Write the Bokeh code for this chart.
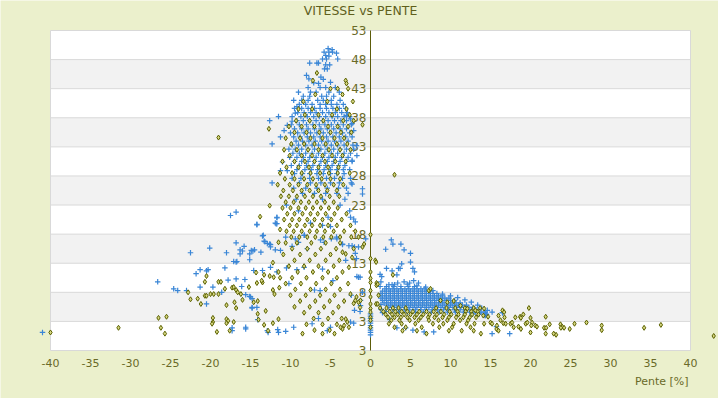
from bokeh.plotting import figure
from bokeh.models import Range1d
from bokeh.core.properties import value
from bokeh.embed import file_html
from bokeh.resources import INLINE

# ---------------- data ----------------
x_ticks = [-40, -35, -30, -25, -20, -15, -10, -5, 0, 5, 10, 15, 20, 25, 30, 35, 40]
y_ticks = [-2, 3, 8, 13, 18, 23, 28, 33, 38, 43, 48, 53]
y_tick_labels = ["3", "3", "8", "13", "18", "23", "28", "33", "38", "43", "48", "53"]

title_text = "VITESSE vs PENTE"
x_title = "Pente [%]"

def rows(spec):
    out = []
    for y, xs in spec:
        for x in xs:
            out.append((x, y))
    return out

# blue series (+)
blue_peak_top = [(-5.3, 49.9), (-4.8, 49.7), (-5.8, 49.3), (-5.2, 49.3), (-4.75, 49.3), (-5.6, 48.7),
                 (-5.2, 48.6), (-4.25, 49.1), (-6.0, 48.1), (-5.5, 48.1), (-4.1, 48.1), (-7.6, 47.4),
                 (-6.7, 47.4), (-6.5, 47.4), (-5.6, 47.1), (-5.1, 47.1), (-5.75, 46.4), (-5.4, 46.4),
                 (-8.0, 45.3), (-7.7, 44.7), (-6.2, 45.0), (-5.9, 44.6), (-7.1, 44.0), (-6.5, 43.9),
                 (-5.0, 44.1)]
blue_peak_rows = [
    (43.2, [-7.8, -6.3, -5.6, -4.4]),
    (42.4, [-9.0, -7.5, -6.8, -5.2, -3.9]),
    (41.7, [-8.4, -7.6, -6.1, -5.5, -4.6]),
    (41.0, [-9.6, -8.6, -7.8, -6.6, -5.9, -4.9, -3.8]),
    (40.3, [-8.9, -8.1, -7.3, -6.3, -5.6, -4.9, -4.2, -3.4]),
    (39.6, [-9.5, -8.6, -7.8, -7.0, -6.3, -5.5, -4.7, -3.9, -3.1]),
    (38.9, [-9.1, -8.3, -7.5, -6.8, -6.0, -5.2, -4.4, -3.6, -2.9]),
    (38.2, [-11.5, -9.8, -8.7, -7.9, -7.1, -6.4, -5.6, -4.8, -4.1, -3.3, -2.6]),
    (37.5, [-9.2, -8.4, -7.6, -6.8, -6.0, -5.3, -4.5, -3.7, -3.0]),
    (36.8, [-9.9, -8.9, -8.0, -7.2, -6.4, -5.7, -4.9, -4.1, -3.4, -2.4]),
    (36.1, [-9.5, -8.6, -7.8, -7.0, -6.2, -5.4, -4.6, -3.8, -3.0]),
    (35.4, [-10.0, -9.1, -8.3, -7.5, -6.7, -5.9, -5.1, -4.3, -3.5, -2.6]),
    (34.7, [-9.6, -8.8, -7.9, -7.1, -6.3, -5.5, -4.7, -3.9, -3.1, -2.3]),
    (34.0, [-9.3, -8.5, -7.7, -6.9, -6.1, -5.3, -4.5, -3.7, -2.8]),
    (33.3, [-9.8, -9.0, -8.1, -7.3, -6.5, -5.7, -4.9, -4.1, -3.3, -2.2]),
    (32.6, [-10.2, -9.4, -8.6, -7.8, -7.0, -6.2, -5.4, -4.6, -3.8, -3.0, -2.1]),
    (31.9, [-9.7, -8.9, -8.1, -7.3, -6.5, -5.7, -4.9, -4.1, -3.3, -2.5]),
    (31.2, [-10.1, -9.2, -8.4, -7.6, -6.8, -6.0, -5.2, -4.4, -3.6, -2.8]),
    (30.5, [-9.5, -8.6, -7.8, -7.0, -6.2, -5.4, -4.6, -3.8, -3.0, -2.3]),
    (29.8, [-9.9, -8.9, -8.0, -7.2, -6.4, -5.6, -4.8, -4.0, -3.2]),
    (29.1, [-9.2, -8.2, -7.4, -6.6, -5.8, -5.0, -4.2, -3.4, -2.6]),
    (28.4, [-9.5, -8.5, -7.6, -6.7, -5.9, -5.0, -4.2, -3.3]),
    (27.6, [-9.8, -8.7, -7.6, -6.5, -5.5, -4.5, -3.5, -2.5]),
    (26.8, [-8.9, -7.5, -6.2, -5.0, -3.9, -2.4]),
    (25.9, [-9.6, -8.1, -6.7, -5.4, -4.0, -3.0]),
    (25.0, [-8.5, -7.0, -5.6, -4.2, -2.8]),
    (24.0, [-9.3, -6.0, -3.2]),
    (23.0, [-10.5, -3.8]),
    (22.0, [-9.0, -2.6]),
]
blue_peak_edge = [(-12.3, 33.5), (-11.25, 34.7), (-10.4, 36.7), (-9.8, 37.4), (-9.4, 38.8), (-9.2, 39.9),
                  (-10.8, 35.8), (-11.0, 30.4), (-10.4, 28.9), (-11.25, 28.9), (-12.6, 37.5),
                  (-3.0, 38.4), (-2.5, 37.8), (-2.3, 37.0), (-2.1, 35.8), (-1.75, 33.2), (-1.7, 31.5),
                  (-2.3, 30.7), (-2.3, 26.6), (-1.0, 25.8), (-1.0, 24.9), (-2.5, 20.9), (-2.1, 20.6),
                  (-1.9, 20.1), (-12.3, 26.8), (-11.7, 20.9), (-11.7, 19.8)]
blue_low = [(-10.6, 17.5), (-9.4, 17.2), (-8.3, 17.8), (-7.9, 15.5), (-6.25, 17.0), (-5.8, 16.6),
            (-4.2, 17.2), (-3.5, 16.3), (-2.7, 16.0), (-1.5, 15.8), (-0.6, 17.2),
            (-11.9, 15.3), (-11.25, 15.2), (-9.8, 15.9), (-9.0, 16.6), (-8.25, 17.8), (-7.5, 19.9),
            (-6.0, 19.5), (-5.3, 20.9), (-5.0, 19.3), (-4.9, 17.2), (-4.25, 17.5), (-3.5, 16.2),
            (-2.3, 16.0), (-2.0, 15.8), (-1.75, 13.8), (-1.5, 10.6), (-1.0, 8.0), (-1.25, 5.7),
            (-2.4, 7.5), (-4.7, 10.0), (-6.3, 8.3), (-6.0, 12.0), (-7.0, 8.4), (-8.3, 12.3),
            (-9.2, 11.9), (-10.5, 12.2), (-10.2, 9.5), (-11.7, 11.5), (-12.5, 12.3), (-13.5, 11.75),
            (-14.6, 11.75), (-15.1, 13.6), (-16.3, 15.3), (-15.8, 15.9), (-14.9, 15.2), (-16.7, 13.3),
            (-17.1, 13.3), (-15.6, 7.6), (-14.8, 5.4), (-14.2, 5.4), (-17.3, 1.4), (-15.6, 1.7),
            (-12.9, 1.4), (-11.5, 1.1), (-10.6, 1.3), (-9.6, 2.0), (-7.3, 2.6), (-6.5, 3.5),
            (-5.4, 1.4), (-5.0, 2.0), (-2.5, 2.9), (-1.9, 14.7), (-3.1, 13.5), (-1.7, 10.7),
            (-1.3, 10.6), (-1.25, 6.6), (-2.0, 4.9), (-1.3, 4.7), (-2.1, 2.7)]
blue_left = [(-17.5, 21.2), (-16.8, 21.8), (-14.2, 19.6), (-11.8, 19.8), (-11.7, 20.8), (-13.5, 17.7),
             (-13.2, 16.7), (-12.6, 16.3), (-12.5, 15.8), (-16.8, 16.5), (-22.5, 14.8), (-20.1, 15.6),
             (-18.0, 14.8), (-16.3, 14.6), (-16.0, 15.1), (-15.1, 14.6), (-14.7, 15.1), (-14.5, 15.3),
             (-13.7, 14.9), (-16.8, 13.2), (-18.2, 12.2), (-21.8, 11.2), (-21.3, 11.9), (-20.5, 11.7),
             (-20.3, 11.9), (-26.6, 9.8), (-24.6, 8.6), (-24.1, 8.3), (-23.0, 8.3), (-21.3, 8.9),
             (-19.7, 8.9), (-17.8, 10.1), (-16.8, 10.3), (-16.1, 9.0), (-15.7, 10.2), (-15.1, 7.3),
             (-14.8, 6.9), (-15.0, 7.2), (-18.6, 8.0), (-20.5, 6.0), (-14.8, 5.3), (-14.1, 3.3),
             (-12.8, 1.1), (-11.6, 1.6), (-15.6, 2.0), (-17.3, 1.9), (-14.2, 19.7), (-11.9, 19.9),
             (-13.4, 17.8), (-12.5, 16.2), (-12.9, 16.4), (-13.3, 16.8), (-41.0, 1.1)]
blue_zero = [(0.0, 0.7), (0.0, 1.1), (0.0, 1.5), (0.0, 1.9), (0.0, 2.3), (0.0, 2.7), (0.0, 3.1),
             (0.0, 3.5), (0.0, 3.9), (0.0, 4.3)]
blue_blob_rows = [
    (9.0, [2.0, 2.9, 3.8, 4.7, 5.5]),
    (8.6, [1.8, 2.3, 2.8, 3.3, 3.8, 4.3, 4.8, 5.3, 5.8, 6.3, 6.8]),
    (8.2, [1.5, 2.0, 2.5, 3.0, 3.5, 4.0, 4.5, 5.0, 5.5, 6.0, 6.5, 7.0, 7.5]),
    (7.8, [1.3, 1.8, 2.3, 2.8, 3.3, 3.8, 4.3, 4.8, 5.3, 5.8, 6.3, 6.8, 7.3, 7.8, 8.3]),
    (7.4, [1.5, 2.0, 2.5, 3.0, 3.5, 4.0, 4.5, 5.0, 5.5, 6.0, 6.5, 7.0, 7.5, 8.0, 8.5, 9.0]),
    (7.0, [1.3, 1.8, 2.3, 2.8, 3.3, 3.8, 4.3, 4.8, 5.3, 5.8, 6.3, 6.8, 7.3, 7.8, 8.3, 8.8, 9.3, 9.8]),
    (6.6, [1.5, 2.0, 2.5, 3.0, 3.5, 4.0, 4.5, 5.0, 5.5, 6.0, 6.5, 7.0, 7.5, 8.0, 8.5, 9.0, 9.5, 10.0, 10.5]),
    (6.2, [1.7, 2.2, 2.7, 3.2, 3.7, 4.2, 4.7, 5.2, 5.7, 6.2, 6.7, 7.2, 7.7, 8.2, 8.7, 9.2, 9.7, 10.2, 10.7, 11.2]),
    (5.8, [2.0, 2.5, 3.0, 3.5, 4.0, 4.5, 5.0, 5.5, 6.0, 6.5, 7.0, 7.5, 8.0, 8.5, 9.0, 9.5, 10.0, 10.5, 11.0,
           11.5, 12.0]),
    (5.4, [2.3, 2.8, 3.3, 3.8, 4.3, 4.8, 5.3, 5.8, 6.3, 6.8, 7.3, 7.8, 8.3, 8.8, 9.3, 9.8, 10.3, 10.8, 11.3,
           11.8, 12.3, 12.8]),
    (5.0, [2.8, 3.5, 4.2, 4.9, 5.6, 6.3, 7.0, 7.7, 8.4, 9.1, 9.8, 10.5, 11.2, 11.9, 12.6, 13.3]),
    (4.6, [3.6, 4.6, 5.6, 6.6, 7.6, 8.6, 9.6, 10.6, 11.6, 12.4, 13.1, 13.8]),
    (4.3, [12.8, 13.6, 14.4]),
]
blue_right_extra = [(2.3, 9.3), (3.4, 9.6), (4.6, 9.4), (5.8, 9.1), (1.2, 9.0), (6.9, 8.9), (7.8, 8.3),
                    (9.0, 7.7), (10.0, 7.4), (10.9, 7.1), (11.8, 6.7), (12.6, 6.3), (13.4, 5.8), (13.9, 5.3),
                    (14.6, 4.9), (15.2, 4.6), (16.5, 4.5), (14.3, 4.0), (15.75, 2.1), (15.2, 0.9), (17.4, 0.9),
                    (2.6, 17.0), (2.8, 16.3), (3.8, 16.3), (1.9, 15.4), (4.2, 15.3), (5.0, 14.7), (5.0, 13.2),
                    (3.9, 12.9), (2.0, 12.1), (5.3, 12.1), (2.7, 11.7), (5.5, 11.5), (3.3, 11.0), (3.5, 12.1),
                    (3.7, 12.1), (1.3, 9.8), (6.0, 9.6), (5.4, 10.0), (2.7, 9.3), (3.0, 9.3), (4.9, 9.6),
                    (4.2, 9.8), (1.2, 11.1), (1.4, 10.7), (3.3, 1.9), (4.4, 1.9), (5.3, 1.5), (6.7, 1.2),
                    (7.9, 1.2), (2.4, 3.3), (1.9, 4.7), (1.5, 4.5), (1.3, 5.9), (1.3, 5.1), (14.2, 4.6),
                    (14.4, 4.0), (14.5, 4.2), (16.5, 4.5)]

# olive series (diamonds)
olive_peak_rows = [
    (45.7, [-6.7]),
    (44.4, [-7.2, -3.1]),
    (43.9, [-3.0]),
    (43.0, [-5.0, -4.1, -2.8]),
    (42.0, [-6.9, -3.5]),
    (40.8, [-8.4, -5.4, -2.2]),
    (39.5, [-9.0, -7.3, -4.2, -3.0]),
    (38.5, [-8.2, -6.5, -4.8, -2.6]),
    (37.5, [-9.3, -7.6, -5.9, -3.4, -2.1]),
    (36.5, [-10.2, -8.6, -7.0, -5.3, -4.1, -2.8]),
    (35.5, [-9.5, -8.0, -6.4, -5.0, -3.7, -2.4]),
    (34.5, [-10.6, -8.8, -7.5, -6.0, -4.5, -3.3]),
    (33.5, [-9.9, -8.3, -7.0, -5.6, -4.2, -2.9]),
    (32.5, [-10.8, -9.2, -7.8, -6.5, -5.2, -3.8, -2.5]),
    (31.5, [-10.1, -8.6, -7.3, -6.0, -4.8, -3.5]),
    (30.5, [-11.0, -9.5, -8.2, -7.0, -5.7, -4.4, -3.1]),
    (29.5, [-10.5, -9.0, -7.7, -6.5, -5.3, -4.0]),
    (28.5, [-11.3, -9.8, -8.6, -7.5, -6.3, -5.2, -4.1, -2.6]),
    (27.5, [-10.7, -9.5, -8.3, -7.2, -6.1, -5.0, -3.8]),
    (26.5, [-11.6, -10.1, -9.0, -7.9, -6.8, -5.7, -4.6, -3.4]),
    (25.5, [-10.9, -9.7, -8.6, -7.6, -6.5, -5.4, -4.2]),
    (24.5, [-11.2, -10.2, -9.2, -8.2, -7.2, -6.2, -5.1, -3.9]),
    (23.5, [-10.6, -9.6, -8.7, -7.7, -6.7, -5.7, -4.6]),
    (22.5, [-11.0, -10.0, -9.0, -8.1, -7.2, -6.2, -5.2, -4.1]),
    (21.5, [-10.4, -9.5, -8.5, -7.5, -6.6, -5.6, -4.5, -3.0]),
    (20.5, [-10.8, -9.8, -8.9, -7.9, -7.0, -6.0, -4.9, -3.6]),
    (19.5, [-10.1, -9.2, -8.2, -7.3, -6.3, -5.3, -4.2, -2.5]),
    (18.5, [-10.5, -9.6, -8.6, -7.6, -6.7, -5.7, -4.6, -3.3, -1.9]),
    (17.5, [-9.9, -8.9, -7.9, -6.9, -5.9, -4.9, -3.8, -2.4]),
    (16.5, [-10.6, -9.2, -7.4, -5.6, -3.8]),
    (15.5, [-9.8, -7.9, -6.2, -4.3]),
    (14.5, [-10.9, -8.8, -6.9, -5.0]),
    (13.5, [-9.5, -7.6, -5.6, -3.9]),
    (12.5, [-10.2, -8.3, -6.5, -4.6]),
    (11.5, [-11.5, -9.1, -7.2, -5.3, -3.5]),
    (10.5, [-9.8, -8.0, -6.0, -4.2]),
    (9.5, [-10.6, -8.7, -6.8, -4.9]),
    (8.5, [-9.4, -7.5, -5.6, -3.8]),
    (7.5, [-10.0, -8.1, -6.3, -4.5]),
    (6.5, [-8.8, -6.9, -5.1, -3.3]),
    (5.5, [-9.5, -7.6, -5.8, -4.0]),
    (4.5, [-8.3, -6.5, -4.7]),
    (3.5, [-7.1, -5.3, -3.6]),
    (2.5, [-8.0, -6.0, -4.2]),
    (1.5, [-7.0, -5.1]),
    (0.9, [-8.5, -6.0, -4.5]),
]
olive_near_axis = [(-1.0, 36.8), (-1.5, 17.5), (-2.1, 15.5), (-1.0, 15.8), (-2.3, 14.0),
                   (-3.5, 14.9), (-3.1, 14.6), (-2.7, 12.3), (-2.8, 9.5), (-2.5, 7.7), (-1.9, 6.6),
                   (-2.1, 6.1), (-1.5, 6.3), (-1.25, 6.6), (-1.75, 7.2), (-1.3, 5.4), (-3.1, 3.4),
                   (-2.9, 2.9), (-3.3, 2.3), (-3.5, 1.7), (-2.7, 2.0), (-3.75, 2.0), (-0.8, 16.3),
                   (3.0, 28.2), (-19.0, 34.6), (-12.7, 36.1)]
olive_left = [(-31.5, 1.9), (-26.5, 3.6), (-25.5, 3.8), (-26.2, 1.9), (-25.7, 0.9), (-22.8, 8.0),
              (-22.5, 6.8), (-21.6, 6.9), (-21.2, 6.0), (-20.7, 7.4), (-20.5, 7.4), (-20.0, 7.7),
              (-19.6, 7.7), (-19.0, 7.7), (-20.7, 9.8), (-20.5, 10.8), (-19.0, 9.8), (-18.7, 9.8),
              (-19.7, 3.6), (-19.7, 2.9), (-19.8, 2.6), (-19.2, 1.2), (-18.0, 3.4), (-17.8, 3.1),
              (-18.0, 2.7), (-17.1, 2.9), (-17.6, 1.4), (-16.8, 5.3), (-18.2, 8.6), (-18.0, 5.8),
              (-17.3, 8.8), (-17.1, 8.9), (-16.8, 8.4), (-16.6, 8.0), (-17.0, 6.3), (-16.2, 7.7),
              (-16.0, 6.7), (-15.2, 8.9), (-14.6, 6.3), (-14.1, 6.5), (-14.2, 9.6), (-13.5, 9.7),
              (-13.1, 4.8), (-14.1, 4.3), (-14.0, 3.3), (-13.3, 2.4), (-12.8, 1.4), (-12.2, 2.7),
              (-11.5, 3.4), (-12.0, 7.7), (-12.2, 8.4), (-11.4, 8.8), (-11.3, 10.5), (-12.1, 10.6),
              (-12.6, 10.8), (-13.3, 11.0), (-12.6, 22.9), (-13.8, 21.0), (-11.3, 18.8), (-11.5, 16.6),
              (-12.2, 13.1), (-14.3, 11.4), (-13.6, 10.0), (-40.0, 1.1)]
olive_zero = [(0.0, 17.9), (0.0, 13.8), (0.0, 11.5), (0.0, 10.4), (0.0, 9.7), (0.0, 8.3), (0.0, 7.2),
              (0.0, 6.0), (0.0, 5.2), (0.0, 4.6), (0.0, 3.7), (0.0, 3.2), (0.0, 2.0),
              (0.6, 13.5), (0.75, 9.6), (0.7, 6.0), (1.0, 7.5), (0.9, 6.0), (0.75, 9.2), (0.9, 9.4),
              (2.8, 11.0), (0.7, 13.2)]
olive_right_rows = [
    (5.3, [1.2, 2.0, 2.8, 3.5, 4.4, 8.2, 9.5, 10.6, 11.8, 12.9, 13.7]),
    (4.7, [1.6, 2.4, 3.1, 3.9, 4.6, 5.3, 6.1, 7.0, 7.9, 8.8, 9.9, 10.9, 11.9, 12.6, 13.4]),
    (4.2, [1.9, 2.7, 3.4, 4.2, 5.0, 5.8, 6.6, 7.4, 8.3, 9.2, 10.1, 11.0, 11.8, 12.7, 13.5]),
    (3.7, [2.2, 3.0, 3.8, 4.6, 5.5, 6.3, 7.2, 8.0, 9.0, 9.8, 10.7, 11.6, 12.4, 13.2]),
    (3.2, [2.6, 3.6, 4.9, 6.0, 7.3, 8.5, 9.6, 11.2, 12.2]),
    (2.6, [2.3, 3.9, 5.6, 7.8, 9.1, 10.4, 12.0, 13.0]),
    (2.0, [3.0, 4.4, 6.4, 8.6, 10.2, 12.5]),
    (1.4, [4.0, 5.8, 9.8, 11.4, 12.9]),
    (0.9, [7.0, 13.8]),
]
olive_right_extra = [(7.3, 8.3), (8.75, 6.6), (9.6, 6.3), (10.4, 6.5), (11.25, 5.7), (12.1, 5.2),
                     (13.1, 4.9), (7.5, 8.6),
                     (14.2, 5.2), (14.1, 4.0), (14.7, 3.8), (14.2, 2.6), (15.0, 2.8), (15.2, 2.6),
                     (15.75, 1.7), (15.8, 2.3), (16.0, 4.0), (16.5, 4.9), (16.7, 4.6), (16.75, 3.7),
                     (16.25, 3.2), (16.6, 2.7), (16.9, 2.6), (17.5, 2.6), (17.7, 2.8), (17.9, 2.0),
                     (18.1, 3.7), (18.7, 3.8), (18.8, 3.6), (19.1, 4.2), (18.5, 2.1), (18.8, 1.7),
                     (19.4, 2.6), (19.6, 2.8), (20.0, 3.6), (20.2, 2.8), (20.1, 2.3), (19.8, 5.3),
                     (20.6, 2.3), (20.8, 2.1), (20.0, 1.1), (21.9, 3.8), (22.4, 2.5), (21.7, 1.9),
                     (21.96, 1.9), (21.9, 0.9), (23.2, 0.7), (23.75, 2.5), (23.96, 2.1), (24.2, 1.9),
                     (23.8, 1.9), (24.9, 1.7), (25.5, 2.6), (27.0, 2.8), (28.9, 2.3), (28.9, 1.5),
                     (34.2, 1.9), (36.3, 2.4), (42.9, 0.5), (16.0, 1.4), (22.9, 0.9)]

blue_pts = (blue_peak_top + rows(blue_peak_rows) + blue_peak_edge + blue_low + blue_left
            + blue_zero + rows(blue_blob_rows) + blue_right_extra)
olive_pts = (rows(olive_peak_rows) + olive_near_axis + olive_left + olive_zero
             + rows(olive_right_rows) + olive_right_extra)

# ---------------- styling ----------------
BG = "#ebf0cc"
TXT = "#6a6a28"
GRID = "#d9d9d9"
BAND = "#f2f2f2"
FONT = "DejaVu Sans"

x_lo, x_hi = x_ticks[0], x_ticks[-1]
y_lo, y_hi = y_ticks[0], y_ticks[-1]

# the whole canvas is the frame: 8 px per x unit, 320/55 px per y unit
p = figure(width=718, height=398, output_backend="svg", toolbar_location=None,
           x_range=Range1d(-46.25, 43.5), y_range=Range1d(-10.25, 58.156),
           min_border_left=0, min_border_right=0, min_border_top=0, min_border_bottom=0)
p.background_fill_color = BG
p.border_fill_color = BG
p.outline_line_color = None
p.xgrid.visible = False
p.ygrid.visible = False
p.xaxis.visible = False
p.yaxis.visible = False

# plot area, bands, grid lines
r = p.quad(left=[x_lo], right=[x_hi], bottom=[y_lo], top=[y_hi], fill_color="white", line_color=None)
r.level = "image"
band_b = y_ticks[1:-1:2]
band_t = y_ticks[2::2]
r = p.quad(left=[x_lo] * len(band_b), right=[x_hi] * len(band_b), bottom=band_b, top=band_t,
           fill_color=BAND, line_color=None)
r.level = "image"
r = p.segment(x0=[x_lo] * len(y_ticks), x1=[x_hi] * len(y_ticks), y0=y_ticks, y1=y_ticks,
              line_color=GRID, line_width=1)
r.level = "image"
r = p.segment(x0=[x_lo, x_hi], x1=[x_lo, x_hi], y0=[y_lo, y_lo], y1=[y_hi, y_hi],
              line_color=GRID, line_width=1)
r.level = "image"
r = p.segment(x0=[0], x1=[0], y0=[y_lo], y1=[y_hi], line_color="#5c5c0a", line_width=1)
r.level = "image"

# y tick labels next to the central axis (under the points)
r = p.text(x=[0] * len(y_ticks), y=y_ticks, text=y_tick_labels, x_offset=-4, text_align="right",
           text_baseline="middle", text_font=value(FONT), text_font_size=value("12px"),
           text_color=TXT)
r.level = "underlay"

# x tick labels and titles
x_label_y = y_lo - 2.23
p.text(x=x_ticks, y=[x_label_y] * len(x_ticks), text=[str(t) for t in x_ticks], text_align="center",
       text_baseline="middle", text_font=value(FONT), text_font_size=value("11px"), text_color=TXT)
p.text(x=[-1.25], y=[y_hi + 3.44], text=[title_text], text_align="center", text_baseline="middle",
       text_font=value(FONT), text_font_size=value("12.5px"), text_color="#5f5f1c")
p.text(x=[x_hi - 0.25], y=[y_lo - 5.33], text=[x_title], text_align="right", text_baseline="middle",
       text_font=value(FONT), text_font_size=value("11px"), text_color=TXT)

# points
p.scatter([a for a, b in blue_pts], [b for a, b in blue_pts], marker="cross", size=5.5,
          line_color="#3a86d6", line_width=1.2)
p.scatter([a for a, b in olive_pts], [b for a, b in olive_pts], marker="diamond", size=5,
          line_color="#5b6100", fill_color="#d6d680", line_width=1)

open("out.html", "w").write(file_html(p, INLINE))
